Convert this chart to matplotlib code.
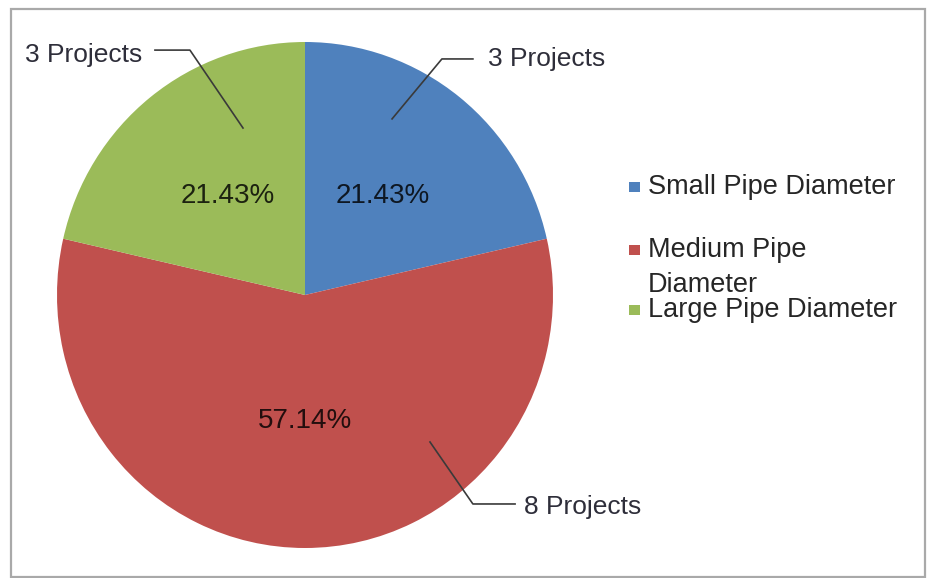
import textwrap
import matplotlib
matplotlib.use("Agg")
import matplotlib.pyplot as plt
from matplotlib.patches import Rectangle

plt.rcParams['font.family'] = ['Liberation Sans', 'DejaVu Sans']

# pipe diameter groups and number of projects in each
categories = ["Small Pipe Diameter", "Medium Pipe Diameter", "Large Pipe Diameter"]
projects = [3, 8, 3]
colors = ["#4F81BD", "#C0504D", "#9BBB59"]

W, H = 927, 578


def fx(px):
    return px / W


def fy(py):
    return 1 - py / H


def main():
    fig = plt.figure(figsize=(W / 100, H / 100), dpi=100)
    fig.patch.set_facecolor("white")

    # outer chart frame
    fig.add_artist(Rectangle((fx(10.5), fy(576.5)), fx(925 - 10.5), (576.5 - 8.5) / H,
                             transform=fig.transFigure, fill=False,
                             edgecolor="#a9a9a9", linewidth=1.6))

    ax = fig.add_axes([fx(57), fy(548), fx(496), 506 / H])
    wedges, _, autotexts = ax.pie(projects, colors=colors, startangle=90, counterclock=False,
                                  autopct="%.2f%%", pctdistance=0.5, radius=1,
                                  wedgeprops=dict(linewidth=0),
                                  textprops=dict(fontsize=20, color="black", alpha=0.82))
    ax.set_aspect("auto")
    ax.set_xlim(-1, 1)
    ax.set_ylim(-1, 1)
    ax.axis("off")

    # leader lines: tip inside slice -> elbow -> end near the label
    leaders = [
        [(0.351, 0.696), (0.552, 0.933), (0.677, 0.933)],
        [(0.504, -0.581), (0.677, -0.826), (0.847, -0.826)],
        [(-0.250, 0.660), (-0.464, 0.968), (-0.605, 0.968)],
    ]
    label_pos = [(0.738, 0.905, "left"), (0.883, -0.866, "left"), (-0.657, 0.921, "right")]
    for n, pts, (tx, ty, ha) in zip(projects, leaders, label_pos):
        xs, ys = zip(*pts)
        ax.plot(xs, ys, color="#3a3a3a", linewidth=1.2, clip_on=False)
        ax.text(tx, ty, f"{n} Projects", ha=ha, va="baseline", fontsize=19,
                color="#2e2e3a", clip_on=False)

    # legend drawn by hand so the long entry wraps onto two lines
    baselines = [194, 257, 317]
    for name, col, base in zip(categories, colors, baselines):
        fig.add_artist(Rectangle((fx(629), fy(base - 2)), fx(11), 10 / H,
                                 transform=fig.transFigure, facecolor=col, edgecolor="none"))
        for i, line in enumerate(textwrap.fill(name, 19).split("\n")):
            fig.text(fx(648), fy(base + 35 * i), line, ha="left", va="baseline",
                     fontsize=19.5, color="#262626")

    fig.savefig("out.png", dpi=100)


if __name__ == "__main__":
    main()
